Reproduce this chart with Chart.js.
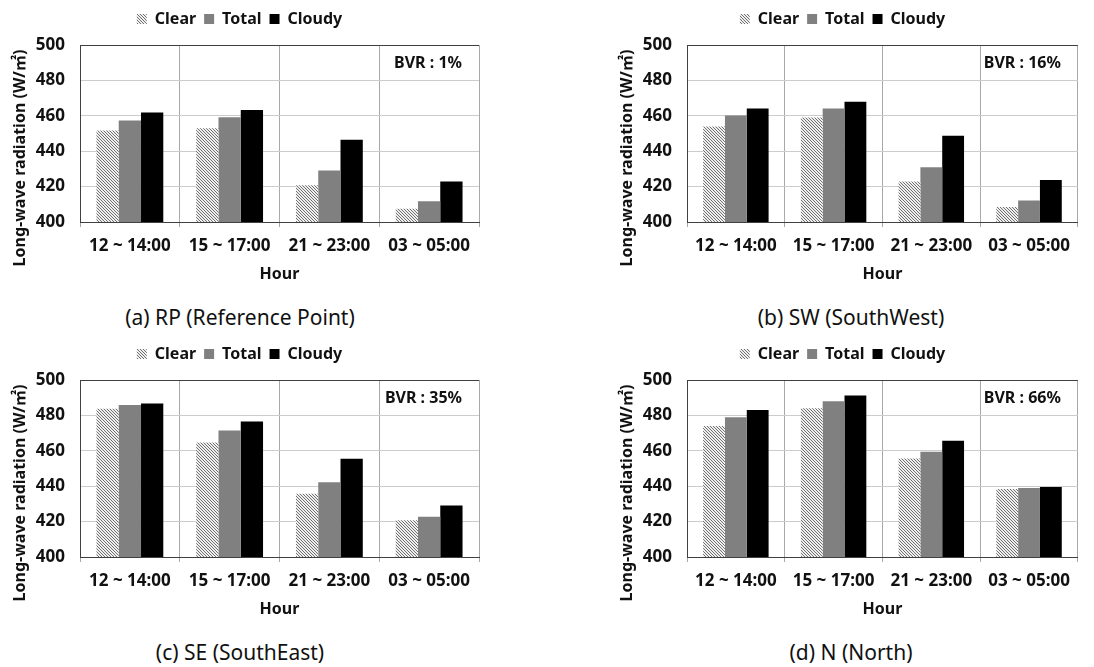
<!DOCTYPE html>
<html>
<head>
<meta charset="utf-8">
<script src="https://cdn.jsdelivr.net/npm/chart.js@4"></script>
<style>
  body { margin: 0; background: #fff; width: 1094px; height: 667px; position: relative; overflow: hidden; }
  .panel { position: absolute; }
  .caption { position: absolute; font: 21px "Noto Sans", sans-serif; color: #111; text-align: center; white-space: nowrap; }
</style>
</head>
<body>
<div class="panel" style="left:0;top:0"><canvas id="c0" width="480" height="290"></canvas></div>
<div class="panel" style="left:607px;top:0"><canvas id="c1" width="472" height="290"></canvas></div>
<div class="panel" style="left:0;top:335px"><canvas id="c2" width="480" height="290"></canvas></div>
<div class="panel" style="left:607px;top:335px"><canvas id="c3" width="472" height="290"></canvas></div>
<div class="caption" style="left:40px;width:400px;top:303px">(a) RP (Reference Point)</div>
<div class="caption" style="left:651px;width:400px;top:303px">(b) SW (SouthWest)</div>
<div class="caption" style="left:40px;width:400px;top:638px">(c) SE (SouthEast)</div>
<div class="caption" style="left:651px;width:400px;top:638px">(d) N (North)</div>
<script>
const categories = ['12 ~ 14:00', '15 ~ 17:00', '21 ~ 23:00', '03 ~ 05:00'];
const seriesNames = ['Clear', 'Total', 'Cloudy'];

const clearRP  = [451.7, 453.0, 420.7, 407.5];
const totalRP  = [457.3, 459.2, 429.1, 411.7];
const cloudyRP = [461.8, 463.3, 446.4, 422.9];

const clearSW  = [453.9, 459.0, 422.9, 408.5];
const totalSW  = [460.2, 464.1, 431.0, 412.2];
const cloudySW = [464.1, 467.9, 448.7, 423.7];

const clearSE  = [483.8, 464.7, 435.7, 420.7];
const totalSE  = [485.9, 471.4, 442.3, 422.7];
const cloudySE = [486.7, 476.5, 455.5, 429.1];

const clearN   = [474.0, 484.1, 455.6, 438.4];
const totalN   = [479.0, 488.0, 459.4, 439.0];
const cloudyN  = [483.0, 491.2, 465.7, 439.5];

const bvrLabels = ['BVR : 1%', 'BVR : 16%', 'BVR : 35%', 'BVR : 66%'];
const yTitle = 'Long-wave radiation (W/㎡)';
const yMin = 400, yMax = 500, yStep = 20;

const panelData = [
  [clearRP, totalRP, cloudyRP],
  [clearSW, totalSW, cloudySW],
  [clearSE, totalSE, cloudySE],
  [clearN, totalN, cloudyN]
];

// hatch fill for the Clear series
function makeHatch() {
  const c = document.createElement('canvas');
  c.width = 3; c.height = 3;
  const g = c.getContext('2d');
  g.fillStyle = '#efefef';
  g.fillRect(0, 0, 3, 3);
  g.fillStyle = '#707070';
  for (let i = 0; i < 3; i++) g.fillRect(i, i, 1, 1);
  return g.createPattern(c, 'repeat');
}
const hatch = makeHatch();
const fills = [hatch, '#808080', '#000000'];

const FONT = '"Noto Sans", "Noto Sans CJK KR", sans-serif';

const panelText = {
  id: 'panelText',
  afterInit(chart) {
    // extra room under the legend
    const lg = chart.legend;
    if (lg) {
      const fit = lg.fit;
      lg.fit = function () { fit.call(this); this.height += 8; };
    }
  },
  afterDraw(chart, args, opts) {
    const { ctx, chartArea } = chart;
    ctx.save();
    ctx.fillStyle = '#111';
    ctx.font = 'bold 16px ' + FONT;
    ctx.textAlign = 'right';
    ctx.textBaseline = 'middle';
    ctx.fillText(opts.bvr, chartArea.right - 17, chartArea.top + 18);
    // y axis title, sits a bit lower than the plot centre like the original
    ctx.translate(20, chartArea.top + 113);
    ctx.rotate(-Math.PI / 2);
    ctx.textAlign = 'center';
    ctx.fillText(yTitle, 0, 0);
    ctx.restore();
  }
};

panelData.forEach((series, idx) => {
  new Chart(document.getElementById('c' + idx), {
    type: 'bar',
    data: {
      labels: categories,
      datasets: series.map((vals, i) => ({
        label: seriesNames[i],
        data: vals,
        backgroundColor: fills[i],
        borderWidth: 0,
        barPercentage: 1.0,
        categoryPercentage: 0.67
      }))
    },
    plugins: [panelText],
    options: {
      responsive: false,
      devicePixelRatio: 1,
      animation: false,
      layout: { padding: { top: 3, right: 1, bottom: 0, left: 0 } },
      plugins: {
        tooltip: { enabled: false },
        panelText: { bvr: bvrLabels[idx] },
        legend: {
          position: 'top',
          labels: {
            boxWidth: 10, boxHeight: 10, padding: 8,
            color: '#111',
            font: { family: FONT, size: 16, weight: 'bold' }
          }
        }
      },
      scales: {
        x: {
          grid: {
            offset: true,
            color: (c) => c.index === categories.length ? '#404040' : '#a8a8a8',
            tickColor: '#a8a8a8',
            tickLength: 5,
            lineWidth: 1
          },
          border: { color: '#404040', width: 1 },
          ticks: { color: '#111', padding: 9, font: { family: FONT, size: 17, weight: 'bold' } },
          title: { display: true, text: 'Hour', color: '#111', padding: 6, font: { family: FONT, size: 16, weight: 'bold' } },
          afterFit: (s) => { s.height = 68; }
        },
        y: {
          min: yMin, max: yMax,
          grid: {
            color: (c) => c.tick && c.tick.value === yMax ? '#404040' : '#cccccc',
            drawTicks: false,
            lineWidth: 1
          },
          border: { color: '#404040', width: 1 },
          ticks: { stepSize: yStep, color: '#111', padding: 15, font: { family: FONT, size: 17, weight: 'bold' } },
          afterFit: (s) => { s.width = 80; }
        }
      }
    }
  });
});
</script>
</body>
</html>
